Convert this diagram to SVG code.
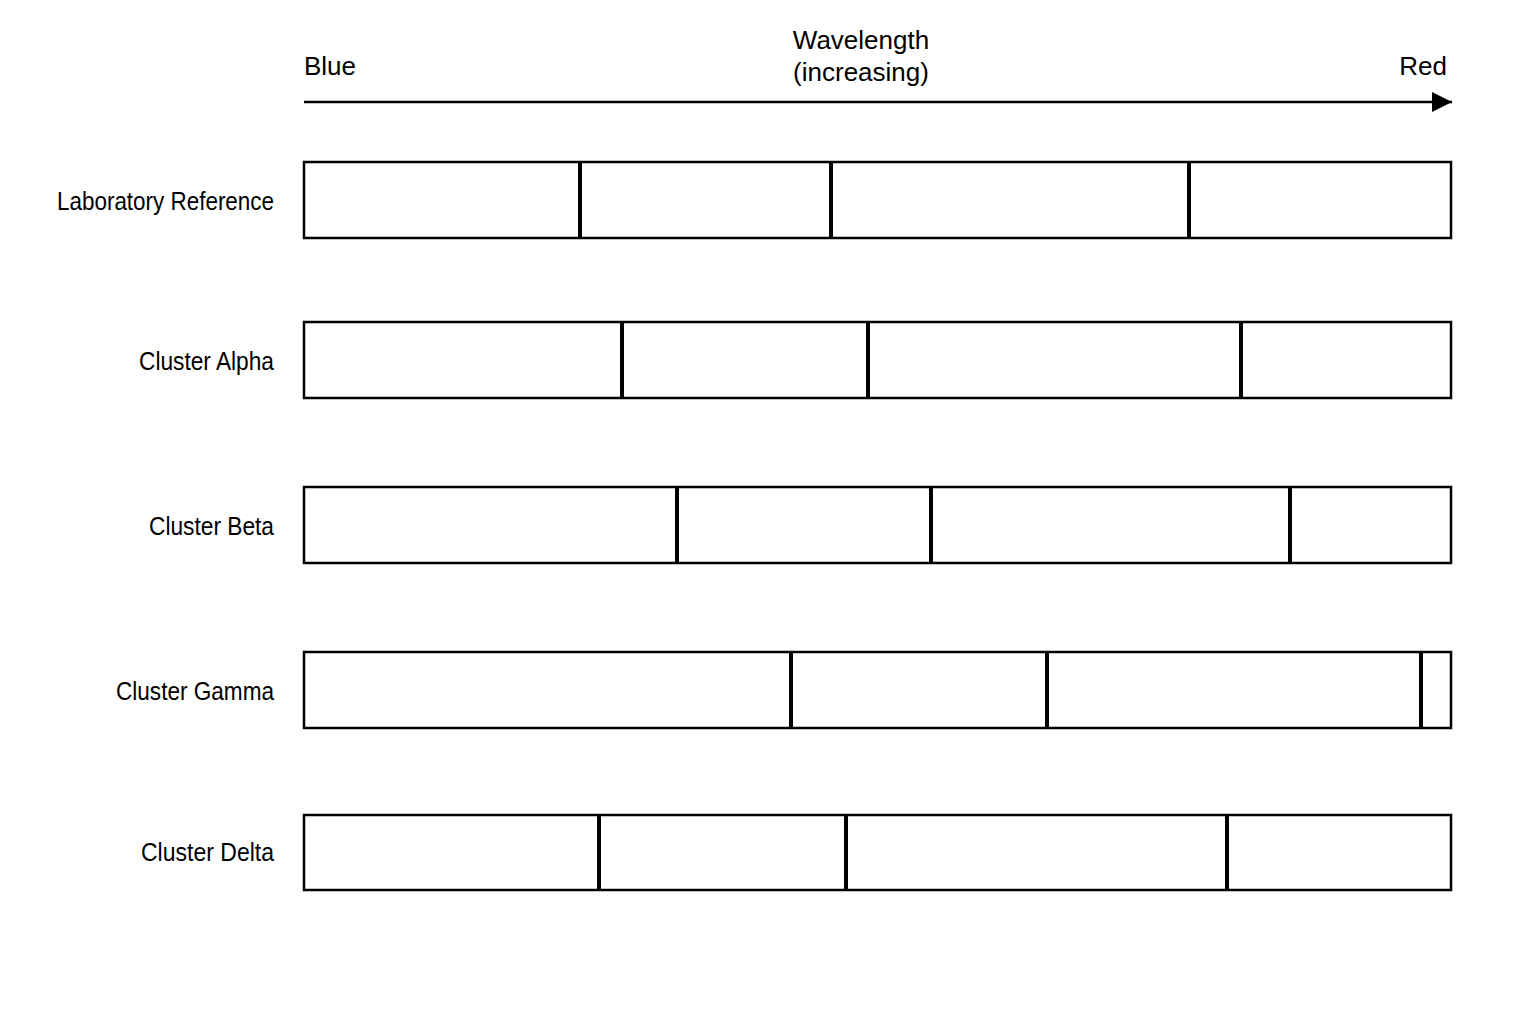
<svg xmlns="http://www.w3.org/2000/svg" width="1536" height="1024" viewBox="0 0 1536 1024">
<style>
.bar{fill:#fff;stroke:#000;stroke-width:2.5}
.div{stroke:#000;stroke-width:4}
.lbl{font-family:"Liberation Sans",Arial,sans-serif;font-size:26px;fill:#000;text-anchor:end}
.ax{font-family:"Liberation Sans",Arial,sans-serif;font-size:26px;fill:#000}
</style>
<defs>
<marker id="ah" markerWidth="20" markerHeight="20" viewBox="0 0 20 20" refX="20" refY="10" orient="auto" markerUnits="userSpaceOnUse">
<path d="M0,0 L20,10 L0,20 Z" fill="#000"/>
</marker>
</defs>
<rect width="1536" height="1024" fill="#fff"/>
<g id="axis">
<line x1="304" y1="102" x2="1452" y2="102" stroke="#000" stroke-width="2.5" marker-end="url(#ah)"/>
<text class="ax" x="304" y="75">Blue</text>
<text class="ax" x="1447" y="75" text-anchor="end">Red</text>
<text class="ax" x="861" y="49" text-anchor="middle">Wavelength</text>
<text class="ax" x="861" y="81" text-anchor="middle">(increasing)</text>
</g>
<g id="row-lab">
<text class="lbl" x="274" y="210" textLength="217" lengthAdjust="spacingAndGlyphs">Laboratory Reference</text>
<rect class="bar" x="304" y="162" width="1147" height="76"/>
<line class="div" x1="580" y1="162" x2="580" y2="238"/>
<line class="div" x1="831" y1="162" x2="831" y2="238"/>
<line class="div" x1="1189" y1="162" x2="1189" y2="238"/>
</g>
<g id="row-alpha">
<text class="lbl" x="274" y="370" textLength="135" lengthAdjust="spacingAndGlyphs">Cluster Alpha</text>
<rect class="bar" x="304" y="322" width="1147" height="76"/>
<line class="div" x1="622" y1="322" x2="622" y2="398"/>
<line class="div" x1="868" y1="322" x2="868" y2="398"/>
<line class="div" x1="1241" y1="322" x2="1241" y2="398"/>
</g>
<g id="row-beta">
<text class="lbl" x="274" y="535" textLength="125" lengthAdjust="spacingAndGlyphs">Cluster Beta</text>
<rect class="bar" x="304" y="487" width="1147" height="76"/>
<line class="div" x1="677" y1="487" x2="677" y2="563"/>
<line class="div" x1="931" y1="487" x2="931" y2="563"/>
<line class="div" x1="1290" y1="487" x2="1290" y2="563"/>
</g>
<g id="row-gamma">
<text class="lbl" x="274" y="700" textLength="158" lengthAdjust="spacingAndGlyphs">Cluster Gamma</text>
<rect class="bar" x="304" y="652" width="1147" height="76"/>
<line class="div" x1="791" y1="652" x2="791" y2="728"/>
<line class="div" x1="1047" y1="652" x2="1047" y2="728"/>
<line class="div" x1="1421" y1="652" x2="1421" y2="728"/>
</g>
<g id="row-delta">
<text class="lbl" x="274" y="861" textLength="133" lengthAdjust="spacingAndGlyphs">Cluster Delta</text>
<rect class="bar" x="304" y="815" width="1147" height="75"/>
<line class="div" x1="599" y1="815" x2="599" y2="890"/>
<line class="div" x1="846" y1="815" x2="846" y2="890"/>
<line class="div" x1="1227" y1="815" x2="1227" y2="890"/>
</g>
</svg>
